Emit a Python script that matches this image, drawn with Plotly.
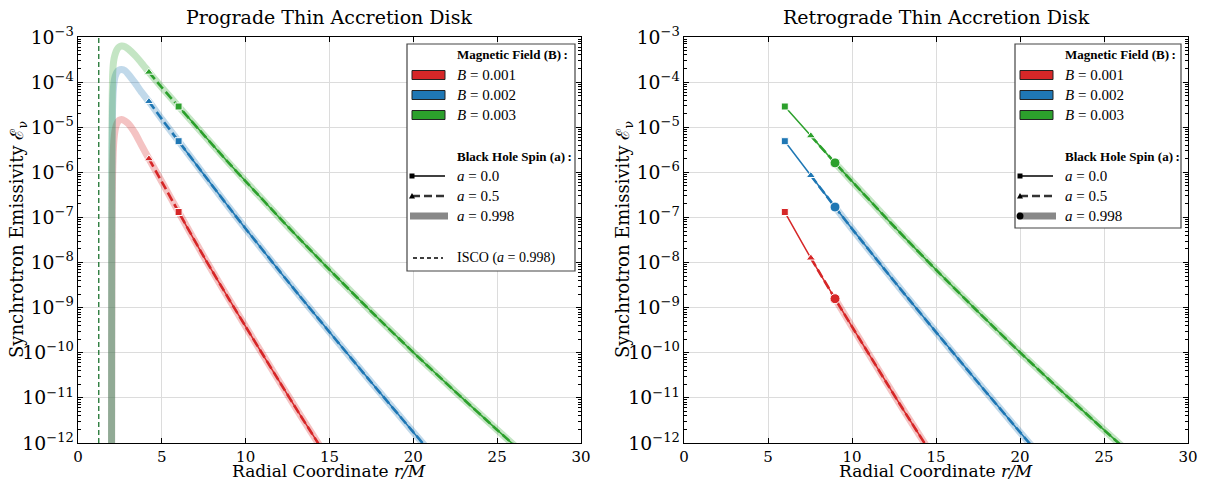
import plotly.graph_objects as go

# ---------------- data ----------------
B_values = [0.001, 0.002, 0.003]
B_colors = ["#d62728", "#1f77b4", "#2ca02c"]
B_faint = ["rgba(214,39,40,0.28)", "rgba(31,119,180,0.28)", "rgba(44,160,44,0.28)"]

spins = [0.0, 0.5, 0.998]
isco_prograde = [6.0, 4.23, 1.237]
isco_retrograde = [6.0, 7.55, 8.99]

# radial grid (outer part of the disk, shared by all spins)
r_grid = [4.23, 5.0, 6.0, 7.55, 8.99, 10.0, 12.0, 13.2, 15.0, 17.5, 20.0, 22.5, 25.0, 27.0]
E_B1 = [2.0e-6, 6.17e-7, 1.32e-7, 1.26e-8, 1.58e-9, 3.8e-10, 2.34e-11, 4.47e-12, 3.98e-13,
        None, None, None, None, None]
E_B2 = [3.72e-5, 1.51e-5, 4.9e-6, 8.51e-7, 1.70e-7, 5.62e-8, 6.61e-9, 1.86e-9, 2.88e-10,
        2.19e-11, 1.74e-12, 1.41e-13, None, None]
E_B3 = [1.66e-4, 7.59e-5, 2.88e-5, 6.46e-6, 1.62e-6, 6.31e-7, 1.0e-7, 3.39e-8, 6.92e-9,
        8.13e-10, 1.02e-10, 1.38e-11, 1.95e-12, 4.17e-13]

# inner rise of the prograde a=0.998 disk
r_rise = [2.0, 2.01, 2.02, 2.035, 2.06, 2.1, 2.15, 2.22, 2.32, 2.45, 2.6, 2.8, 3.0, 3.4, 3.8]
rise_B1 = [1e-13, 3.2e-10, 5.0e-9, 1.0e-7, 7.9e-7, 2.8e-6, 5.6e-6, 8.9e-6, 1.2e-5, 1.42e-5, 1.48e-5,
           1.38e-5, 1.2e-5, 7.4e-6, 3.9e-6]
rise_B2 = [1e-13, 3.2e-9, 1.6e-7, 4.0e-6, 2.5e-5, 6.3e-5, 1.0e-4, 1.35e-4, 1.66e-4, 1.85e-4, 1.9e-4,
           1.8e-4, 1.5e-4, 9.6e-5, 5.9e-5]
rise_B3 = [1e-13, 1e-8, 1e-6, 2.5e-5, 1.26e-4, 2.4e-4, 3.3e-4, 4.2e-4, 5.2e-4, 6.0e-4, 6.3e-4,
           6.1e-4, 5.4e-4, 3.9e-4, 2.63e-4]

E_all = [E_B1, E_B2, E_B3]
rise_all = [rise_B1, rise_B2, rise_B3]

titles = ["Prograde Thin Accretion Disk", "Retrograde Thin Accretion Disk"]
legend_B_labels = ["<i>B</i> = 0.001", "<i>B</i> = 0.002", "<i>B</i> = 0.003"]
legend_a_labels = ["<i>a</i> = 0.0", "<i>a</i> = 0.5", "<i>a</i> = 0.998"]

# ---------------- figure ----------------
SERIF = "DejaVu Serif"
LEGF = "Liberation Serif"
W, H = 1205, 483
X0, X1, YB, YT = 78, 1188, 443, 37


def px(x):
    return (x - X0) / (X1 - X0)


def py(y):
    return (YB - y) / (YB - YT)


fig = go.Figure()


def subset(rs, es, rmin):
    xs, ys = [], []
    for r, e in zip(rs, es):
        if r >= rmin - 1e-9:
            xs.append(r)
            ys.append(e)
    return xs, ys


marker_symbols = ["square", "triangle-up", "circle"]
marker_sizes = [7, 8, 10]

for panel, (isco, xa, ya) in enumerate([(isco_prograde, "x", "y"), (isco_retrograde, "x2", "y2")]):
    for bi in range(3):
        col = B_colors[bi]
        # a = 0.998 (thick faint)
        if panel == 0:
            xs = r_rise + r_grid
            ys = rise_all[bi] + E_all[bi]
        else:
            xs, ys = subset(r_grid, E_all[bi], isco[2])
        fig.add_trace(go.Scatter(x=xs, y=ys, mode="lines", xaxis=xa, yaxis=ya,
                                 line=dict(color=B_faint[bi], width=7, shape="spline", smoothing=0.5),
                                 showlegend=False, hoverinfo="skip"))
        # a = 0.5 dashed
        xs5, ys5 = subset(r_grid, E_all[bi], isco[1])
        fig.add_trace(go.Scatter(x=xs5, y=ys5, mode="lines", xaxis=xa, yaxis=ya,
                                 line=dict(color=col, width=2.6, dash="9px,4px", shape="spline", smoothing=0.6),
                                 showlegend=False))
        # a = 0 solid
        xs0, ys0 = subset(r_grid, E_all[bi], isco[0])
        fig.add_trace(go.Scatter(x=xs0, y=ys0, mode="lines", xaxis=xa, yaxis=ya,
                                 line=dict(color=col, width=1.5, shape="spline", smoothing=0.6),
                                 showlegend=False))
        # markers at the ISCO of each spin
        for si in range(3):
            if panel == 0 and si == 2:
                continue
            rs, es = subset(r_grid, E_all[bi], isco[si])
            fig.add_trace(go.Scatter(x=[rs[0]], y=[es[0]], mode="markers", xaxis=xa, yaxis=ya,
                                     marker=dict(symbol=marker_symbols[si], size=marker_sizes[si],
                                                 color=col, line=dict(color="white", width=1)),
                                     showlegend=False))

# ISCO line (a = 0.998, prograde)
fig.add_trace(go.Scatter(x=[isco_prograde[2], isco_prograde[2]], y=[1e-12, 1e-3], mode="lines",
                         xaxis="x", yaxis="y", showlegend=False,
                         line=dict(color="rgba(20,110,40,0.9)", width=1.4, dash="5px,3px")))

axis_common = dict(showline=True, linecolor="black", linewidth=1.3, mirror="allticks",
                   ticks="inside", ticklen=5, tickcolor="black", tickwidth=1,
                   showgrid=True, gridcolor="#dcdcdc", gridwidth=1, zeroline=False, automargin=False,
                   tickfont=dict(family=SERIF, size=15, color="black"))

minor = dict(ticks="inside", ticklen=2.5, tickcolor="black", dtick="D1", showgrid=False)

fig.update_layout(
    width=W, height=H,
    margin=dict(l=X0, r=W - X1, t=YT, b=H - YB, autoexpand=False),
    plot_bgcolor="white", paper_bgcolor="white",
    showlegend=False,
    xaxis=dict(domain=[0, px(581)], range=[0, 30], dtick=5, anchor="y", **axis_common),
    xaxis2=dict(domain=[px(684), 1], range=[0, 30], dtick=5, anchor="y2", **axis_common),
    yaxis=dict(type="log", range=[-12, -3], dtick=1, exponentformat="power", anchor="x",
               minor=minor, **axis_common),
    yaxis2=dict(type="log", range=[-12, -3], dtick=1, exponentformat="power", anchor="x2",
                minor=minor, **axis_common),
)

ann = []
shapes = []
for cx, title, ylx in [(329, titles[0], 18), (936, titles[1], 624)]:
    ann.append(dict(x=px(cx), y=py(17), xref="paper", yref="paper", text=title, showarrow=False,
                    font=dict(family=SERIF, size=19, color="black"), xanchor="center", yanchor="middle"))
    ann.append(dict(x=px(cx), y=py(483), xref="paper", yref="paper",
                    text="Radial Coordinate <i>r/M</i>", showarrow=False,
                    font=dict(family=SERIF, size=17, color="black"), xanchor="center", yanchor="bottom"))
    ann.append(dict(x=px(ylx), y=py(240), xref="paper", yref="paper", textangle=-90,
                    text="Synchrotron Emissivity \u2130<sub>\u03bd</sub>", showarrow=False,
                    font=dict(family=SERIF, size=18, color="black"), xanchor="center", yanchor="middle"))


def legend_box(x0, x1, y0, y1, tx, patch_x0, patch_x1, with_isco, circle_marker):
    shapes.append(dict(type="rect", xref="paper", yref="paper", x0=px(x0), x1=px(x1), y0=py(y1), y1=py(y0),
                       line=dict(color="#444", width=1.2), fillcolor="white", layer="above"))

    def text(y, s, bold=False, size=15):
        ann.append(dict(x=px(tx), y=py(y), xref="paper", yref="paper",
                        text=("<b>%s</b>" % s) if bold else s, showarrow=False,
                        font=dict(family=LEGF, size=size, color="black"),
                        xanchor="left", yanchor="middle"))

    text(54, "Magnetic Field (B)\u2009:", bold=True, size=13)
    for i, y in enumerate([75, 95, 115]):
        shapes.append(dict(type="rect", xref="paper", yref="paper", x0=px(patch_x0), x1=px(patch_x1),
                           y0=py(y + 4.5), y1=py(y - 4.5), fillcolor=B_colors[i],
                           line=dict(color="#222", width=1), layer="above"))
        text(y, legend_B_labels[i])
    text(156, "Black Hole Spin (a)\u2009:", bold=True, size=13)
    # a = 0.0
    y = 176
    shapes.append(dict(type="line", xref="paper", yref="paper", x0=px(patch_x0), x1=px(patch_x1),
                       y0=py(y), y1=py(y), line=dict(color="black", width=1.5), layer="above"))
    shapes.append(dict(type="rect", xref="paper", yref="paper", x0=px(patch_x0 - 2.5), x1=px(patch_x0 + 2.5),
                       y0=py(y + 2.5), y1=py(y - 2.5), fillcolor="black", line=dict(width=0), layer="above"))
    text(y, legend_a_labels[0])
    # a = 0.5
    y = 196
    shapes.append(dict(type="line", xref="paper", yref="paper", x0=px(patch_x0), x1=px(patch_x1),
                       y0=py(y), y1=py(y), line=dict(color="#333", width=2.6, dash="8px,4px"), layer="above"))
    shapes.append(dict(type="path", xref="paper", yref="paper",
                       path="M %f,%f L %f,%f L %f,%f Z" % (px(patch_x0 - 3), py(y + 2.5), px(patch_x0 + 3), py(y + 2.5),
                                                           px(patch_x0), py(y - 3)),
                       fillcolor="black", line=dict(width=0), layer="above"))
    text(y, legend_a_labels[1])
    # a = 0.998
    y = 216
    shapes.append(dict(type="line", xref="paper", yref="paper", x0=px(patch_x0 - 2), x1=px(patch_x1 + 3),
                       y0=py(y), y1=py(y), line=dict(color="#888", width=7), layer="above"))
    if circle_marker:
        shapes.append(dict(type="circle", xref="paper", yref="paper", x0=px(patch_x0 - 3.5), x1=px(patch_x0 + 3.5),
                           y0=py(y + 3.5), y1=py(y - 3.5), fillcolor="black", line=dict(width=0), layer="above"))
    text(y, legend_a_labels[2])
    if with_isco:
        y = 258
        shapes.append(dict(type="line", xref="paper", yref="paper", x0=px(patch_x0 + 1), x1=px(patch_x1 - 2),
                           y0=py(y), y1=py(y), line=dict(color="black", width=1.3, dash="4px,3px"), layer="above"))
        text(y, "ISCO (<i>a</i> = 0.998)", size=14)


legend_box(407, 575, 44, 271, 455, 412, 445, True, False)
legend_box(1015, 1181, 44, 228, 1063, 1020, 1053, False, True)

fig.update_layout(annotations=ann, shapes=shapes)
fig.write_html("out.html", config={"displayModeBar": False},
               post_script="document.body.style.margin='0';document.body.style.overflow='hidden';")
